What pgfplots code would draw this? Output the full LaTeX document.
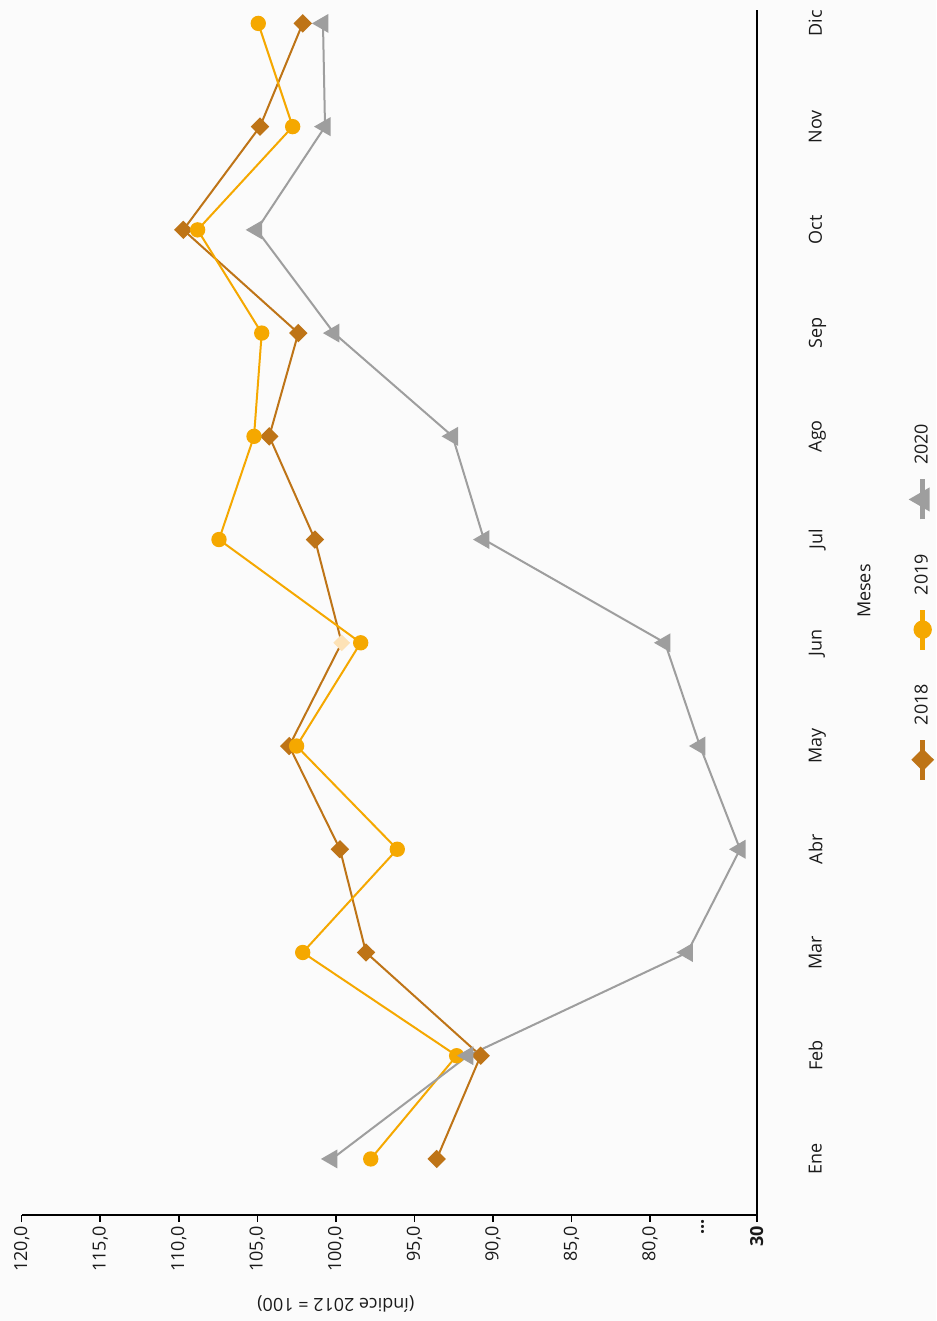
\documentclass[border=0pt]{standalone}
\usepackage{pgfplots}
\pgfplotsset{compat=1.18}
\usepackage{fontspec}
\setmainfont{Open Sans}

\definecolor{c18}{HTML}{BE7417}
\definecolor{c19}{HTML}{F5A800}
\definecolor{c20}{HTML}{9E9E9E}
\definecolor{pale}{HTML}{FDE2B6}
\definecolor{bg}{HTML}{FBFBFB}
\definecolor{txt}{HTML}{1A1A1A}

\pgfplotsset{
  m18/.style={mark=diamond*, mark size=3.9pt, mark options={xscale=1.33, draw=none, fill=#1}},
  m19/.style={mark=*, mark size=3.33pt, mark options={draw=none, fill=c19}},
  m20/.style={mark=triangle*, mark size=4.5pt, mark options={draw=none, fill=c20}},
}

\begin{document}
\rotatebox{90}{%
\begin{tikzpicture}[font=\fontsize{9}{11}\selectfont]
\fill[bg] (-53pt,-89.65pt) rectangle (607.5pt,378.35pt);
\useasboundingbox (-53pt,-89.65pt) rectangle (607.5pt,378.35pt);
\begin{axis}[
  at={(0pt,0pt)}, anchor=south west,
  scale only axis, width=602.5pt, height=367.5pt,
  xmin=-0.543, xmax=11.13,
  ymin=73.21, ymax=120,
  clip=false,
  axis lines=left,
  axis line style={-, line width=0.8pt, black},
  % tramo cortado del eje: 30-80 comprimido
  y filter/.expression={y<80 ? 80-(80-y)*0.1358 : y},
  xtick={0,...,11},
  xticklabels={Ene,Feb,Mar,Abr,May,Jun,Jul,Ago,Sep,Oct,Nov,Dic},
  xtick style={draw=none},
  xticklabel style={yshift=-19pt, text=txt},
  ytick={73.21,80,85,90,95,100,105,110,115,120},
  yticklabels={\textbf{30},{80,0},{85,0},{90,0},{95,0},{100,0},{105,0},{110,0},{115,0},{120,0}},
  yticklabel style={text=txt, xshift=1.5pt},
  extra y ticks={76.65},
  extra y tick labels={\textbf{...}},
  extra y tick style={major tick length=0pt},
  tick align=outside,
  major tick length=3.5pt,
  ytick style={black, line width=0.8pt},
  xlabel={Meses},
  xlabel style={at={(rel axis cs:0.5177,0)}, anchor=center, yshift=-53.7pt, text=txt},
  ylabel={(índice 2012 = 100)},
  ylabel style={at={([xshift=-44.5pt]rel axis cs:0,0.5726)}, anchor=center, text=txt},
  legend columns=3,
  legend cell align=left,
  legend style={at={(rel axis cs:0.5095,0)}, anchor=center, yshift=-83pt,
    draw=none, fill=none, text=txt, column sep=0pt,
    /tikz/every odd column/.append style={column sep=4pt},
    /tikz/every even column/.append style={column sep=14pt}},
  legend image code/.code={\draw[mark repeat=2, mark phase=2] plot coordinates {(0pt,0pt) (10pt,0pt) (20pt,0pt)};},
]

\addplot[pale, m18=pale, only marks, forget plot] coordinates {(5,99.63)};

\addplot[c18, line width=1pt, m18=c18, mark indices={1,2,3,4,5,7,8,9,10,11,12}, forget plot] coordinates {
(0,93.58)(1,90.78)(2,98.08)(3,99.74)(4,102.97)(5,99.63)(6,101.33)(7,104.24)(8,102.39)(9,109.71)(10,104.83)(11,102.11)
};

\addplot[c19, line width=1pt, m19, forget plot] coordinates {
(0,97.78)(1,92.31)(2,102.11)(3,96.09)(4,102.50)(5,98.42)(6,107.44)(7,105.21)(8,104.72)(9,108.80)(10,102.75)(11,104.94)
};

\addplot[c20, line width=1pt, m20, forget plot] coordinates {
(0,100.25)(1,91.59)(2,62.5)(3,37.8)(4,56.6)(5,73.0)(6,90.57)(7,92.57)(8,100.12)(9,105.04)(10,100.69)(11,100.82)
};

\addlegendimage{c18, line width=2.5pt, m18=c18}
\addlegendentry{2018}
\addlegendimage{c19, line width=2.5pt, m19}
\addlegendentry{2019}
\addlegendimage{c20, line width=2.5pt, m20}
\addlegendentry{2020}
\end{axis}
\end{tikzpicture}}
\end{document}
